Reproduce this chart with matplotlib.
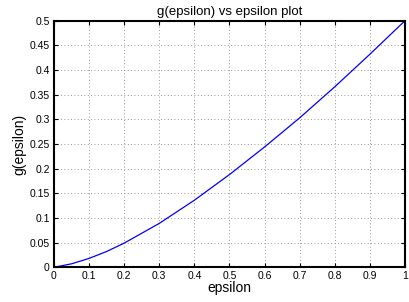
import matplotlib
matplotlib.use("Agg")
import matplotlib.pyplot as plt
import numpy as np

# values
epsilon = [0.0, 0.05, 0.1, 0.15, 0.2, 0.3, 0.4, 0.5, 0.6, 0.7, 0.8, 0.9, 1.0]
g_eps = [0.0, 0.007, 0.018, 0.032, 0.049, 0.089, 0.136, 0.188, 0.244, 0.303, 0.366, 0.432, 0.5]

xticks = np.arange(0, 1.01, 0.1)
yticks = np.arange(0, 0.501, 0.05)
xticklabels = ["0", "0.1", "0.2", "0.3", "0.4", "0.5", "0.6", "0.7", "0.8", "0.9", "1"]
yticklabels = ["0", "0.05", "0.1", "0.15", "0.2", "0.25", "0.3", "0.35", "0.4", "0.45", "0.5"]

plt.rcParams.update({'font.family': ['Liberation Sans', 'DejaVu Sans']})

fig = plt.figure(figsize=(4.10, 3.02), dpi=100)
ax = fig.add_axes([0.1317, 0.115, 0.8561, 0.8165])

ax.plot(epsilon, g_eps, color='blue', linewidth=0.9)

ax.set_xlim(0, 1)
ax.set_ylim(0, 0.5)
ax.set_xticks(xticks)
ax.set_xticklabels(xticklabels)
ax.set_yticks(yticks)
ax.set_yticklabels(yticklabels)
ax.tick_params(direction='in', top=True, right=True, length=3, width=0.8,
               labelsize=7.5, pad=3, colors='black')
ax.grid(True, linestyle=(0, (1, 3)), color='#777777', linewidth=0.6)

for s in ax.spines.values():
    s.set_linewidth(1.5)

ax.set_title("g(epsilon) vs epsilon plot", fontsize=9.5, pad=4)
ax.set_xlabel("epsilon", fontsize=10, labelpad=0)
ax.set_ylabel("g(epsilon)", fontsize=10, labelpad=2)

fig.savefig("out.png", dpi=100)
